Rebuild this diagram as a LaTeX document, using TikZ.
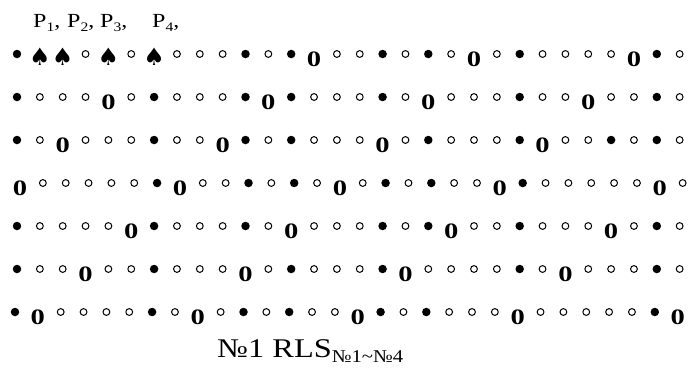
\documentclass[tikz,border=0pt]{standalone}
\usepackage{fontspec}
\setmainfont{Liberation Serif}
\newfontfamily\symfont{DejaVu Sans}
\usepackage{graphicx}
\newcommand\psub[1]{\raisebox{-4pt}{\fontsize{13}{13}\selectfont #1}}
\newcommand\plab[1]{\scalebox{1.2}[1]{P\psub{#1},}}
\newcommand\tsub[1]{\raisebox{-5pt}{\scalebox{1.15}[1]{\fontsize{18}{18}\selectfont #1}}}
\begin{document}
\begin{tikzpicture}[x=1pt,y=-1pt,
  wc/.style={circle,draw=black,line width=1pt,minimum size=6.8pt,inner sep=0pt,node contents={}},
  bc/.style={circle,fill=black,minimum size=8.5pt,inner sep=0pt,node contents={}},
  zr/.style={inner sep=0pt,yshift=-5pt,font=\fontsize{22}{22}\selectfont\bfseries,node contents={\scalebox{1.3}[1]{0}}},
  sp/.style={inner sep=0pt,yshift=-3pt,font=\symfont\fontsize{24}{24}\selectfont,node contents={\char"2660}},
  lbl/.style={inner sep=0pt,anchor=base west,font=\fontsize{20}{20}\selectfont},
  ttl/.style={inner sep=0pt,anchor=base west,font=\fontsize{27}{27}\selectfont}]
\useasboundingbox (0,0) rectangle (688,370);
\node[lbl] (p1) at (33,27) {\plab{1}};
\node[lbl] (p2) at (67,27) {\plab{2}};
\node[lbl] (p3) at (100,27) {\plab{3}};
\node[lbl] (p4) at (152,27) {\plab{4}};
\foreach \row/\yy/\off/\syms in {
  1/54/0/{bc,sp,sp,wc,sp,wc,sp,wc,wc,wc,bc,wc,bc,zr,wc,wc,bc,wc,bc,wc,zr,wc,bc,wc,wc,wc,wc,zr,bc,wc},
  2/97/0/{bc,wc,wc,wc,zr,wc,bc,wc,wc,wc,bc,zr,bc,wc,wc,wc,bc,wc,zr,wc,wc,wc,bc,wc,wc,zr,wc,wc,bc,wc},
  3/140/0/{bc,wc,zr,wc,wc,wc,bc,wc,wc,zr,bc,wc,bc,wc,wc,wc,zr,wc,bc,wc,wc,wc,bc,zr,wc,wc,bc,wc,bc,wc},
  4/183/3/{zr,wc,wc,wc,wc,wc,bc,zr,wc,wc,bc,wc,bc,wc,zr,wc,bc,wc,bc,wc,wc,zr,bc,wc,wc,wc,wc,wc,zr,wc},
  5/226/0/{bc,wc,wc,wc,wc,zr,bc,wc,wc,wc,bc,wc,zr,wc,wc,wc,bc,wc,bc,zr,wc,wc,bc,wc,wc,wc,zr,wc,bc,wc},
  6/269/0/{bc,wc,wc,zr,wc,wc,bc,wc,wc,wc,zr,wc,bc,wc,wc,wc,bc,zr,wc,wc,wc,wc,bc,wc,zr,wc,wc,wc,bc,wc},
  7/312/-2/{bc,zr,wc,wc,wc,wc,bc,wc,zr,wc,bc,wc,bc,wc,wc,zr,bc,wc,bc,wc,wc,wc,zr,wc,wc,wc,wc,wc,bc,zr}}{
  \foreach \s [count=\i] in \syms {
    \node (r\row c\i) at ({17+22.85*(\i-1)+\off},\yy) [\s];
  }
}
\node[ttl] (title) at (217,357) {\scalebox{1.2}[1]{№1 RLS}\tsub{№1\char"7E№4}};
\end{tikzpicture}
\end{document}
